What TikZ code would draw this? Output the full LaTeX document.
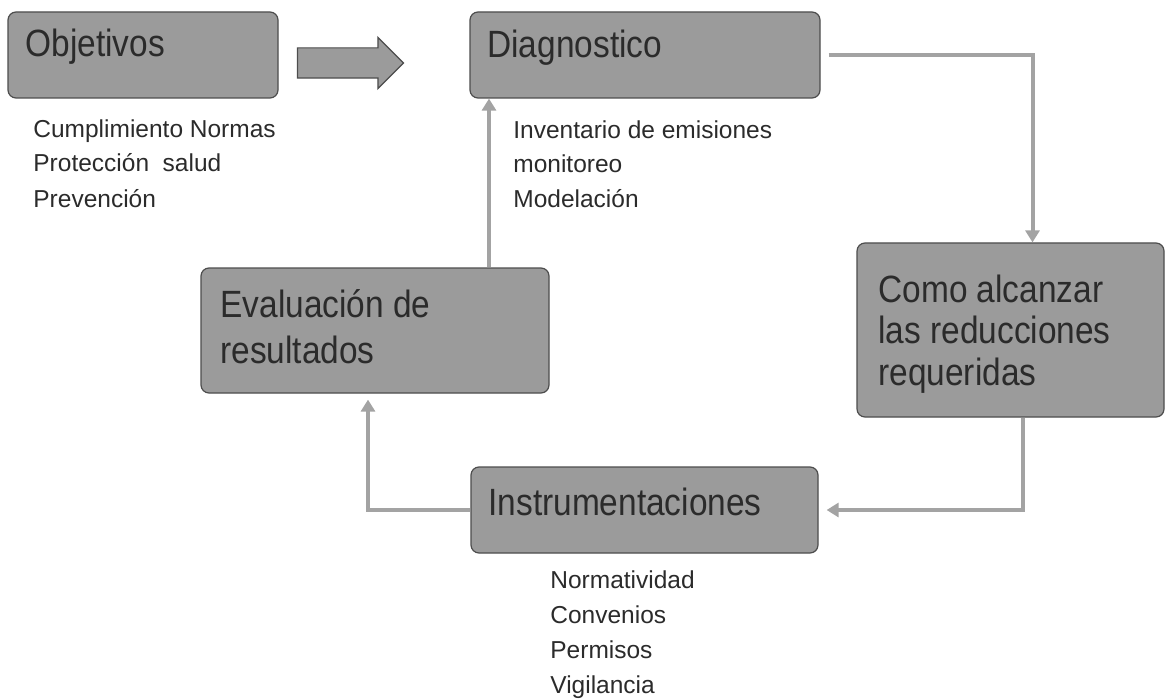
\documentclass[tikz,border=0pt]{standalone}
\usepackage{fontspec}
\setmainfont{Liberation Sans}
\newfontfamily\titlefont[FakeStretch=0.88]{Liberation Sans}
\usetikzlibrary{arrows.meta,shapes.arrows}
\definecolor{boxgray}{HTML}{9B9B9B}
\definecolor{edgegray}{HTML}{4D4D4D}
\definecolor{linegray}{HTML}{A3A3A3}
\definecolor{inkgray}{HTML}{2B2B2B}

\begin{document}
\begin{tikzpicture}[x=0.5pt,y=-0.5pt,
	stage/.style={rectangle,rounded corners=4pt,fill=boxgray,draw=edgegray,line width=0.6pt,inner sep=0pt},
	title/.style={anchor=base west,inner sep=0pt,align=left,text=inkgray,font=\titlefont\fontsize{19}{23}\selectfont},
	note/.style={anchor=base west,inner sep=0pt,align=left,text=inkgray,font=\fontsize{12.25}{17.5}\selectfont},
	flow/.style={draw=linegray,line width=2pt,-{Triangle[length=6pt,width=7pt]}}]
		
		\useasboundingbox (0,0) rectangle (1166,700);
		
		% the five stages
		\node[stage,minimum width=135pt,minimum height=43pt] (obj) at (143,55) {};
		\node[stage,minimum width=175pt,minimum height=43pt] (diag) at (645,55) {};
		\node[stage,minimum width=174pt,minimum height=62.5pt] (eval) at (375,330.5) {};
		\node[stage,minimum width=153.5pt,minimum height=87pt] (como) at (1010.5,330) {};
		\node[stage,minimum width=173.5pt,minimum height=43pt] (instr) at (644.5,510) {};
		
		% base is the last line of a text
		\node[title] (objT) at (25,57) {Objetivos};
		\node[title] (diagT) at (487,58) {Diagnostico};
		\node[title] (evalT) at (220,363) {Evaluación de\\resultados};
		\node[title,font=\titlefont\fontsize{19}{20.75}\selectfont] (comoT) at (878,385) {Como alcanzar\\las reducciones\\requeridas};
		\node[title] (instrT) at (488,515) {Instrumentaciones};
		
		% lists under the stages
		\node[note] (objL) at (33,207) {Cumplimiento Normas\\Protección~ salud\\Prevención};
		\node[note] (diagL) at (513,208) {Inventario de emisiones\\monitoreo\\Modelación};
		\node[note] (instrL) at (550,693) {Normatividad\\Convenios\\Permisos\\Vigilancia};
		
		\node[single arrow,fill=boxgray,draw=edgegray,line width=0.6pt,inner sep=7.25pt,
			minimum height=53pt,single arrow head extend=5.25pt,single arrow head indent=0pt] (push) at (343,63) {};
		
		\draw[flow,shorten <=4pt] (diag.east) -| ([xshift=11pt]como.north);
		\draw[flow,shorten >=4pt] ([xshift=6pt]como.south) |- (instr.east);
		\draw[flow,shorten >=3pt] (instr.west) -| ([xshift=-3.5pt]eval.south);
		\draw[flow] ([xshift=57pt]eval.north) -- ([xshift=57pt]eval.north |- diag.south);
		\end{tikzpicture}
\end{document}
